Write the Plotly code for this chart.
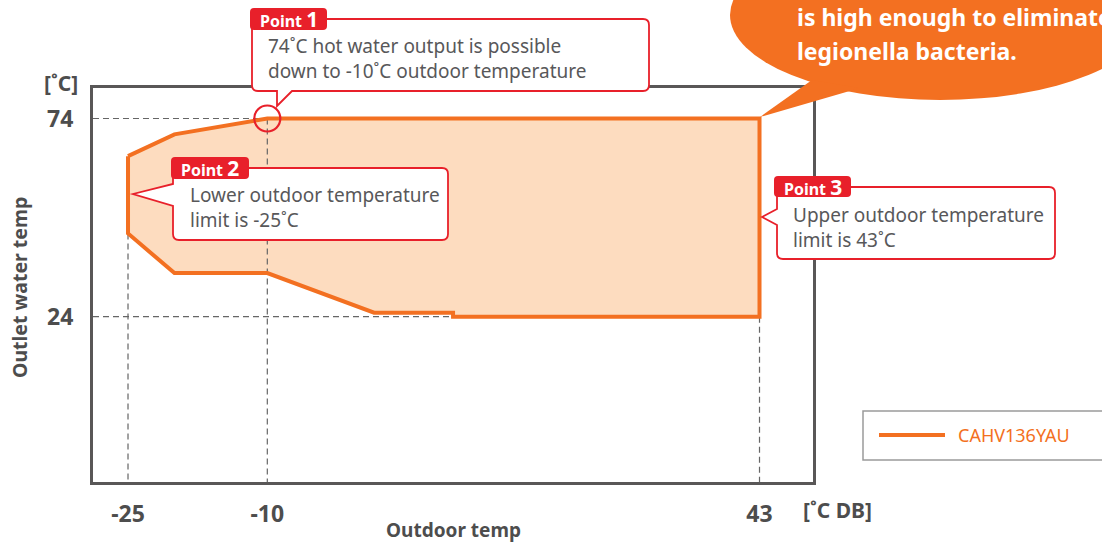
import plotly.graph_objects as go

# ---------------- data ----------------
outdoor_temp = [-25, -20, -10, 43, 43, 10, 10, 1.5, -10, -20, -25, -25]
outlet_temp = [64.5, 70, 74, 74, 24, 24, 25, 25, 35, 35, 45, 64.5]
series_name = "CAHV136YAU"
x_tick_vals = [-25, -10, 43]
x_tick_text = ["-25", "-10", "43"]
y_tick_vals = [24, 74]
y_tick_text = ["24", "74"]
x_range = [-28.77, 48.76]
y_range = [-17.7, 81.69]

# reference guide lines (dashed)
guide_x = [x_range[0], -10, None, x_range[0], 43, None, -25, -25, None, -10, -10, None, 43, 43]
guide_y = [74, 74, None, 24, 24, None, 45, y_range[0], None, 74, y_range[0], None, 24, y_range[0]]

callout_texts = [
    ["74˚C hot water output is possible", "down to -10˚C outdoor temperature"],
    ["Lower outdoor temperature", "limit is -25˚C"],
    ["Upper outdoor temperature", "limit is 43˚C"],
]
bubble_lines = ["is high enough to eliminate", "legionella bacteria."]

# ---------------- styling ----------------
W, H = 1102, 546
L, R, T, B = 93, 813, 88, 482
ORANGE = "#F37021"
FILL = "#FDDCBF"
RED = "#E8202A"
AXIS = "#595757"
TXT = "#58585A"
LBL = "#4D4D4D"
FONT = "Noto Sans"


def P(x, y):
    return ((x - L) / (R - L), (B - y) / (B - T))


def pt(x, y):
    a, b = P(x, y)
    return f"{a:.5f},{b:.5f}"


def rounded_path(x0, y0, x1, y1, r, tail=None):
    s = f"M {pt(x0 + r, y0)} L {pt(x1 - r, y0)} Q {pt(x1, y0)} {pt(x1, y0 + r)} "
    s += f"L {pt(x1, y1 - r)} Q {pt(x1, y1)} {pt(x1 - r, y1)} "
    if tail and tail[0] == "bottom":
        _, xa, xb, tx, ty = tail
        s += f"L {pt(xb, y1)} L {pt(tx, ty)} L {pt(xa, y1)} "
    s += f"L {pt(x0 + r, y1)} Q {pt(x0, y1)} {pt(x0, y1 - r)} "
    if tail and tail[0] == "left":
        _, ya, yb, tx, ty = tail
        s += f"L {pt(x0, yb)} L {pt(tx, ty)} L {pt(x0, ya)} "
    s += f"L {pt(x0, y0 + r)} Q {pt(x0, y0)} {pt(x0 + r, y0)} Z"
    return s


fig = go.Figure()

# operating range fill
fig.add_trace(go.Scatter(x=outdoor_temp, y=outlet_temp, mode="lines", fill="toself",
                         fillcolor=FILL, line=dict(width=0), hoverinfo="skip",
                         showlegend=False))
# dashed guides
fig.add_trace(go.Scatter(x=guide_x, y=guide_y, mode="lines",
                         line=dict(color="#666666", width=1.2, dash="6px,4px"),
                         hoverinfo="skip", showlegend=False, cliponaxis=True))
# outline
fig.add_trace(go.Scatter(x=outdoor_temp, y=outlet_temp, mode="lines", name=series_name,
                         line=dict(color=ORANGE, width=4), showlegend=False))

shapes = []
annotations = []

# circle at point 1
shapes.append(dict(type="circle", xref="x", yref="y", xsizemode="pixel", ysizemode="pixel",
                   xanchor=-10, yanchor=74, x0=-13, x1=13, y0=-13, y1=13,
                   line=dict(color=RED, width=2.2), fillcolor="rgba(0,0,0,0)", layer="above"))

# callout boxes
boxes = [
    dict(box=(252, 19, 649, 91), tail=("bottom", 277, 292, 277, 106),
         tag=(250, 8, 327, 30), num="1", tx=266, ty=58.5),
    dict(box=(173, 168, 448, 240), tail=("left", 184, 206, 133, 194),
         tag=(171, 157, 249, 179), num="2", tx=188, ty=207),
    dict(box=(777, 187, 1055, 259), tail=("left", 209, 225, 762, 217),
         tag=(774, 176, 851, 197), num="3", tx=791, ty=227.5),
]
for i, bx in enumerate(boxes):
    x0, y0, x1, y1 = bx["box"]
    shapes.append(dict(type="path", xref="paper", yref="paper",
                       path=rounded_path(x0, y0, x1, y1, 6, bx["tail"]),
                       fillcolor="white", line=dict(color=RED, width=1.8), layer="above"))
    tx0, ty0, tx1, ty1 = bx["tag"]
    shapes.append(dict(type="path", xref="paper", yref="paper",
                       path=rounded_path(tx0, ty0, tx1, ty1, 4),
                       fillcolor=RED, line=dict(width=0), layer="above"))
    cx, cy = P((tx0 + tx1) / 2, (ty0 + ty1) / 2)
    annotations.append(dict(xref="paper", yref="paper", x=cx, y=cy, showarrow=False,
                            xanchor="center", yanchor="middle",
                            text=f"<b>Point <span style='font-size:21px'>{bx['num']}</span></b>",
                            font=dict(family=FONT, size=16, color="white")))
    ax, ay = P(bx["tx"], bx["ty"])
    annotations.append(dict(xref="paper", yref="paper", x=ax, y=ay, showarrow=False,
                            xanchor="left", yanchor="middle", align="left",
                            text="<br>".join(callout_texts[i]),
                            font=dict(family=FONT, size=19, color=TXT)))

# orange speech bubble
ex0, ey0 = P(730, -70)
ex1, ey1 = P(1150, 100)
shapes.append(dict(type="circle", xref="paper", yref="paper", x0=ex0, y0=ey1, x1=ex1, y1=ey0,
                   fillcolor=ORANGE, line=dict(width=0), layer="above"))
shapes.append(dict(type="path", xref="paper", yref="paper",
                   path=f"M {pt(812, 80)} L {pt(760, 117)} L {pt(860, 88)} Z",
                   fillcolor=ORANGE, line=dict(width=0), layer="above"))
for line, yy in zip(bubble_lines, [17, 51]):
    ax, ay = P(795, yy)
    annotations.append(dict(xref="paper", yref="paper", x=ax, y=ay, showarrow=False,
                            xanchor="left", yanchor="middle", text=f"<b>{line}</b>",
                            font=dict(family=FONT, size=23, color="white")))

# legend box (drawn)
lx0, ly0 = P(863, 411)
lx1, ly1 = P(1115, 460)
shapes.append(dict(type="rect", xref="paper", yref="paper", x0=lx0, y0=ly1, x1=lx1, y1=ly0,
                   fillcolor="white", line=dict(color="#9A9A9A", width=1.5), layer="above"))
sx0, sy = P(879, 435)
sx1, _ = P(945, 435)
shapes.append(dict(type="line", xref="paper", yref="paper", x0=sx0, y0=sy, x1=sx1, y1=sy,
                   line=dict(color=ORANGE, width=4), layer="above"))
ax, ay = P(956, 435)
annotations.append(dict(xref="paper", yref="paper", x=ax, y=ay, showarrow=False,
                        xanchor="left", yanchor="middle", text=series_name,
                        font=dict(family=FONT, size=18, color=ORANGE)))

# axis unit labels and titles
for txt, (px, py), size in [("[˚C]", (61, 83), 21), ("[˚C DB]", (837, 510), 21),
                            ("Outdoor temp", (453, 530), 19)]:
    ax, ay = P(px, py)
    annotations.append(dict(xref="paper", yref="paper", x=ax, y=ay, showarrow=False,
                            xanchor="center", yanchor="middle", text=f"<b>{txt}</b>",
                            font=dict(family=FONT, size=size, color=LBL)))
ax, ay = P(19, 288)
annotations.append(dict(xref="paper", yref="paper", x=ax, y=ay, showarrow=False,
                        xanchor="center", yanchor="middle", textangle=-90,
                        text="<b>Outlet water temp</b>",
                        font=dict(family=FONT, size=19.5, color=LBL)))

axis_common = dict(showgrid=False, zeroline=False, showline=True, linecolor=AXIS,
                   linewidth=3, mirror=True, ticks="outside", tickcolor="rgba(0,0,0,0)",
                   tickfont=dict(family=FONT, size=23, color=LBL, weight="bold"))
fig.update_layout(
    width=W, height=H,
    margin=dict(l=L, r=W - R, t=T, b=H - B, pad=0),
    paper_bgcolor="white", plot_bgcolor="white",
    xaxis=dict(range=x_range, tickmode="array", tickvals=x_tick_vals, ticktext=x_tick_text,
               ticklen=9, **axis_common),
    yaxis=dict(range=y_range, tickmode="array", tickvals=y_tick_vals, ticktext=y_tick_text,
               ticklen=12, **axis_common),
    shapes=shapes, annotations=annotations, showlegend=False,
)

fig.write_html("out.html", config={"displayModeBar": False},
               post_script="document.body.style.margin='0';document.body.style.padding='0';")
